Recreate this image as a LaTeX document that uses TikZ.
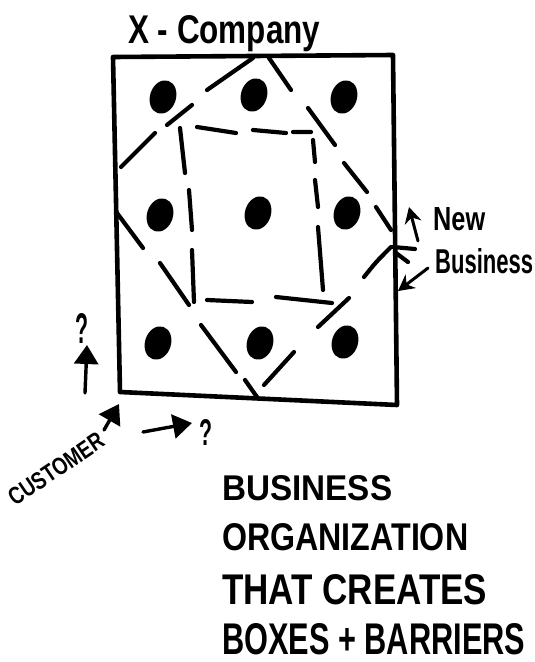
\documentclass[tikz,border=0pt]{standalone}
\usepackage{fontspec}
\setmainfont{Liberation Sans}
\usetikzlibrary{arrows.meta,shapes.geometric}
\begin{document}
\begin{tikzpicture}[x=1pt,y=-1pt,
  pen/.style={line width=4.2pt,line cap=round,line join=round},
  frame/.style={line width=4.6pt,line join=round},
  dot/.style={ellipse,fill=black,inner sep=0pt,minimum width=26pt,minimum height=34pt,rotate=-18},
  bigarrow/.style={line width=3.4pt,line cap=round,-{Triangle[length=19pt,width=24pt]}},
  thinarrow/.style={line width=3pt,line cap=round,-{Stealth[length=16pt,width=17pt]}},
  hand/.style={font=\bfseries,inner sep=0pt,anchor=base west}]
\useasboundingbox (0,0) rectangle (535,662);
\fill[white] (0,0) rectangle (535,662);

% company box
\coordinate (tl) at (113,57);
\coordinate (tr) at (393,55);
\coordinate (br) at (397,405);
\coordinate (bl) at (120,392);
\draw[frame] (tl) -- (tr) -- (br) -- (bl) -- cycle;

% people (dots)
\node[dot] (d11) at (163,97) {};
\node[dot] (d12) at (254,95) {};
\node[dot] (d13) at (344,97) {};
\node[dot] (d21) at (160,215) {};
\node[dot] (d22) at (258,213) {};
\node[dot] (d23) at (347,213) {};
\node[dot] (d31) at (158,343) {};
\node[dot] (d32) at (260,343) {};
\node[dot] (d33) at (345,342) {};

% outer dashed diamond
\draw[pen] (253,58) -- (207,90)  (192,105) -- (167,125)  (155,133) -- (121,167);
\draw[pen] (117,213) -- (143,248)  (160,263) -- (189,305)  (201,325) -- (236,372)  (245,380) -- (257,397);
\draw[pen] (264,385) -- (294,352)  (318,327) -- (349,298)  (364,277) .. controls (376,262) .. (391,247);
\draw[pen] (391,230) -- (376,207)  (367,192) -- (344,163)  (335,145) -- (308,108)  (291,90) -- (269,58);
\draw[pen] (393,247) -- (415,249)  (396,253) -- (408,262);

% inner dashed box
\draw[pen] (197,127) -- (236,133)  (253,130) -- (286,133)  (293,132) -- (311,132);
\draw[pen] (180,128) -- (185,173)  (189,190) -- (192,230)  (192,250) -- (194,302);
\draw[pen] (313,140) -- (315,162)  (315,180) -- (318,207)  (318,227) -- (323,290);
\draw[pen] (207,300) -- (252,302)  (276,297) -- (332,303);

% texts
\node[hand] (company) at (128,43) {\resizebox{192pt}{28pt}{X - Company}};
\node[hand] (new) at (433,230) {\resizebox{52pt}{23pt}{New}};
\node[hand] (business) at (435,273) {\resizebox{98pt}{25pt}{Business}};
\node[hand] (l1) at (222,500) {\resizebox{170pt}{25pt}{BUSINESS}};
\node[hand] (l2) at (222,550) {\resizebox{246pt}{27pt}{ORGANIZATION}};
\node[hand] (l3) at (222,604) {\resizebox{265pt}{30pt}{THAT CREATES}};
\node[hand] (l4) at (222,654) {\resizebox{303pt}{31pt}{BOXES + BARRIERS}};
\node[hand,anchor=base] (q1) at (82,343) {\resizebox{13pt}{30pt}{?}};
\node[hand,anchor=base] (q2) at (206,445) {\resizebox{13pt}{26pt}{?}};
\node[font=\bfseries,inner sep=0pt,rotate=34] (cust) at (56,469) {\resizebox{110pt}{17pt}{CUSTOMER}};

% arrows
\coordinate (upS) at (85,393);
\coordinate (upE) at (87,345);
\draw[bigarrow] (upS) -- (upE);
\coordinate (cuS) at (104,430);
\coordinate (cuE) at (119,404);
\draw[bigarrow] (cuS) -- (cuE);
\coordinate (rtS) at (143,432);
\coordinate (rtE) at (192,423);
\draw[bigarrow] (rtS) -- (rtE);
\coordinate (nbS1) at (418,241);
\coordinate (nbE1) at (409,207);
\draw[thinarrow] (nbS1) -- (nbE1);
\coordinate (nbS2) at (428,268);
\coordinate (nbE2) at (398,291);
\draw[thinarrow] (nbS2) -- (nbE2);
\end{tikzpicture}
\end{document}
